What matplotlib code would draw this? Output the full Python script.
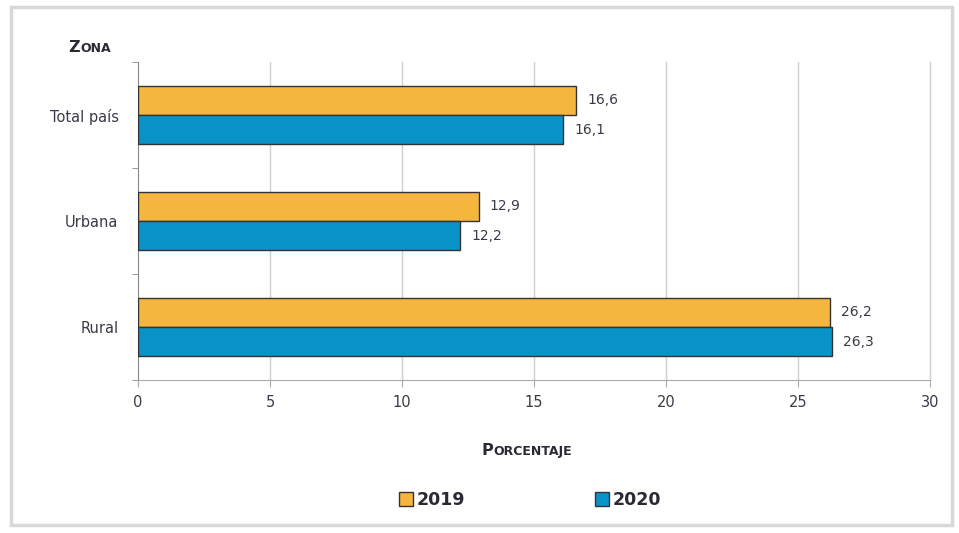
import numpy as np
import matplotlib
matplotlib.use('Agg')
from matplotlib import pyplot as plt
from matplotlib.patches import Rectangle

plt.rcParams['font.family'] = ['DejaVu Sans']

zonas = ['Total país', 'Urbana', 'Rural']
v2019 = [16.6, 12.9, 26.2]
v2020 = [16.1, 12.2, 26.3]
lbl2019 = ['16,6', '12,9', '26,2']
lbl2020 = ['16,1', '12,2', '26,3']
years = ['2019', '2020']

c2019 = '#F4B63F'
c2020 = '#0A93C8'
txt = '#3a3a4a'

fig = plt.figure(figsize=(9.59, 5.33), dpi=100)
ax = fig.add_axes([138/959, 1 - 380/533, 792/959, 318/533])

# frame with light shadow around the picture
fig.patches.append(Rectangle((11/959, 8/533), 941/959, 518/533, transform=fig.transFigure,
                             fill=False, edgecolor='#d8d8d8', lw=2.5, zorder=0))

y = np.arange(len(zonas))
h = 0.275
ax.barh(y - h/2, v2019, height=h, color=c2019, edgecolor='#333333', lw=1.0, zorder=3)
ax.barh(y + h/2, v2020, height=h, color=c2020, edgecolor='#333333', lw=1.0, zorder=3)

for i in range(len(zonas)):
    ax.annotate(lbl2019[i], (v2019[i], y[i] - h/2), xytext=(8, 0), textcoords='offset points',
                va='center', ha='left', fontsize=10, color=txt)
    ax.annotate(lbl2020[i], (v2020[i], y[i] + h/2), xytext=(8, 0), textcoords='offset points',
                va='center', ha='left', fontsize=10, color=txt)

ax.set_xlim(0, 30)
ax.set_ylim(2.5, -0.5)
ax.set_xticks(np.arange(0, 31, 5))
ax.set_yticks(y)
ax.set_yticklabels(zonas, fontsize=10.5, color=txt)
ax.set_yticks([-0.5, 0.5, 1.5, 2.5], minor=True)
ax.tick_params(axis='y', which='major', length=0, pad=14)
ax.tick_params(axis='y', which='minor', length=4, color='#888888')
ax.tick_params(axis='x', length=5, color='#aaaaaa', labelsize=10.5, labelcolor=txt, pad=6)
for gx in range(5, 31, 5):
    ax.axvline(gx, color='#d0d0d0', lw=1, zorder=0, clip_on=False)
for s in ['top', 'right']:
    ax.spines[s].set_visible(False)
ax.spines['left'].set_color('#888888')
ax.spines['bottom'].set_color('#aaaaaa')

# small caps titles
def small_caps(x, y, first, rest, big, small):
    t = fig.text(x, y, first, fontsize=big, color='#2a2a35', ha='left', va='baseline',
                 fontweight='bold')
    fig.canvas.draw()
    bb = t.get_window_extent()
    fig.text(bb.x1 / 959 + 0.001, y, rest, fontsize=small, color='#2a2a35', ha='left',
             va='baseline', fontweight='bold')

small_caps(68/959, 1 - 52/533, 'Z', 'ONA', 11.5, 9)
small_caps(481/959, 1 - 455/533, 'P', 'ORCENTAJE', 11.5, 9)

handles = [Rectangle((0, 0), 1, 1, facecolor=c2019, edgecolor='#333333', lw=1),
           Rectangle((0, 0), 1, 1, facecolor=c2020, edgecolor='#333333', lw=1)]
leg = fig.legend(handles, years, loc='center', bbox_to_anchor=(530/959, 1 - 500/533), ncol=2,
                 frameon=False, handlelength=0.8, handleheight=0.8, handletextpad=0.2,
                 columnspacing=7.5, prop={'size': 12.5, 'weight': 'bold'})
for t in leg.get_texts():
    t.set_color('#2a2a35')

fig.savefig('out.png', dpi=100)
